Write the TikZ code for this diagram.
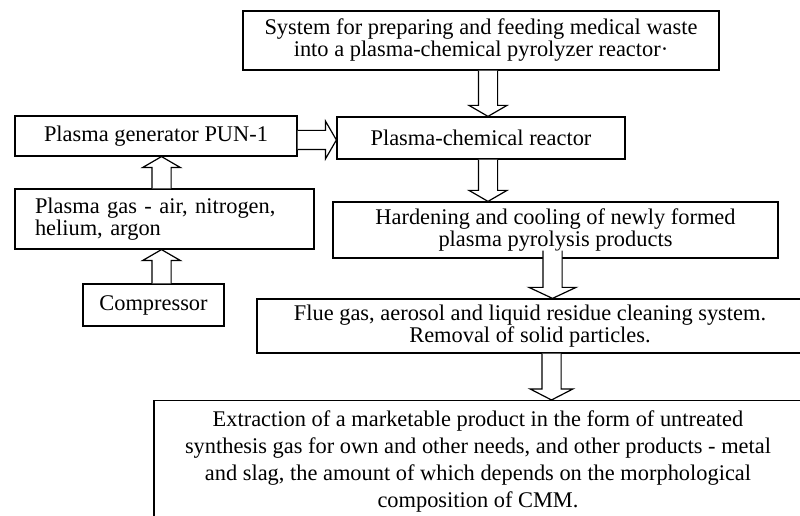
\documentclass[tikz,border=0pt]{standalone}
\usepackage{fontspec}
\setmainfont{Liberation Serif}
\usetikzlibrary{calc}

\tikzset{every picture/.style={line width=0.9pt}}
\tikzset{
  blk/.style={draw, inner sep=0pt, align=center, font=\fontsize{16.8}{16.5}\selectfont},
}
% hollow block arrow from #2 to #3, #1 = half width of the head
\newcommand{\hollowarrow}[3][14.25pt]{%
  \coordinate (ha-s) at (#2);
  \coordinate (ha-e) at (#3);
  \coordinate (ha-h) at ($(ha-e)!8.25pt!(ha-s)$);
  \draw[fill=white] ($(ha-s)!7.2pt!90:(ha-e)$) -- ($(ha-h)!7.2pt!90:(ha-e)$) -- ($(ha-h)!#1!90:(ha-e)$) -- (ha-e) -- ($(ha-h)!#1!-90:(ha-e)$) -- ($(ha-h)!7.2pt!-90:(ha-e)$) -- ($(ha-s)!7.2pt!-90:(ha-e)$);
}

\begin{document}
\begin{tikzpicture}[x=0.75pt,y=0.75pt,yscale=-1,xscale=1]
    \useasboundingbox (0,0) rectangle (800,516);

    % Boxes
    \node (sys) at (481,40.5) [blk, minimum width=357pt, minimum height=44.25pt] {System for preparing and feeding medical waste\\into a plasma-chemical pyrolyzer reactor·};
    \node (reactor) at (481,138) [blk, minimum width=216pt, minimum height=31.5pt] {Plasma-chemical reactor};
    \node (pun) at (156,136) [blk, minimum width=211.5pt, minimum height=30pt] {Plasma generator PUN-1};
    \node (gas) at (164.5,219) [blk, minimum width=224.25pt, minimum height=45pt, inner xsep=15pt, text width=194.25pt, align=left] {Plasma gas - air, nitrogen,\\helium, argon};
    \node (comp) at (153.5,305) [blk, minimum width=105.75pt, minimum height=31.5pt] {Compressor};
    \node (hard) at (555.5,230) [blk, minimum width=333.75pt, minimum height=42pt] {Hardening and cooling of newly formed\\plasma pyrolysis products};
    \node (flue) at (530,326) [blk, minimum width=409.5pt, minimum height=40.5pt] {Flue gas, aerosol and liquid residue cleaning system.\\Removal of solid particles.};
    \node (final) at (478,400) [blk, anchor=north, minimum width=486pt, inner ysep=7.5pt, font=\fontsize{16.8}{20.25}\selectfont] {Extraction of a marketable product in the form of untreated\\synthesis gas for own and other needs, and other products - metal\\and slag, the amount of which depends on the morphological\\composition of CMM.};

    % Block arrows
    \coordinate (a1) at ($(sys.south)+(7,0)$);
    \hollowarrow{a1}{a1 |- reactor.north}
    \coordinate (a2) at ($(pun.east)+(0,4)$);
    \hollowarrow{a2}{a2 -| reactor.west}
    \coordinate (a3) at ($(reactor.south)+(7,0)$);
    \hollowarrow{a3}{a3 |- hard.north}
    \coordinate (a4) at ($(gas.north)+(-3,0)$);
    \hollowarrow{a4}{a4 |- pun.south}
    \coordinate (a5) at ($(comp.north)+(8,0)$);
    \hollowarrow{a5}{a5 |- gas.south}
    \coordinate (a6) at ($(hard.south)+(-3,-8)$);
    \hollowarrow[17.6pt]{a6}{a6 |- flue.north}
    \coordinate (a7) at ($(flue.south)+(21.5,0)$);
    \hollowarrow[16pt]{a7}{a7 |- final.north}

\end{tikzpicture}
\end{document}
